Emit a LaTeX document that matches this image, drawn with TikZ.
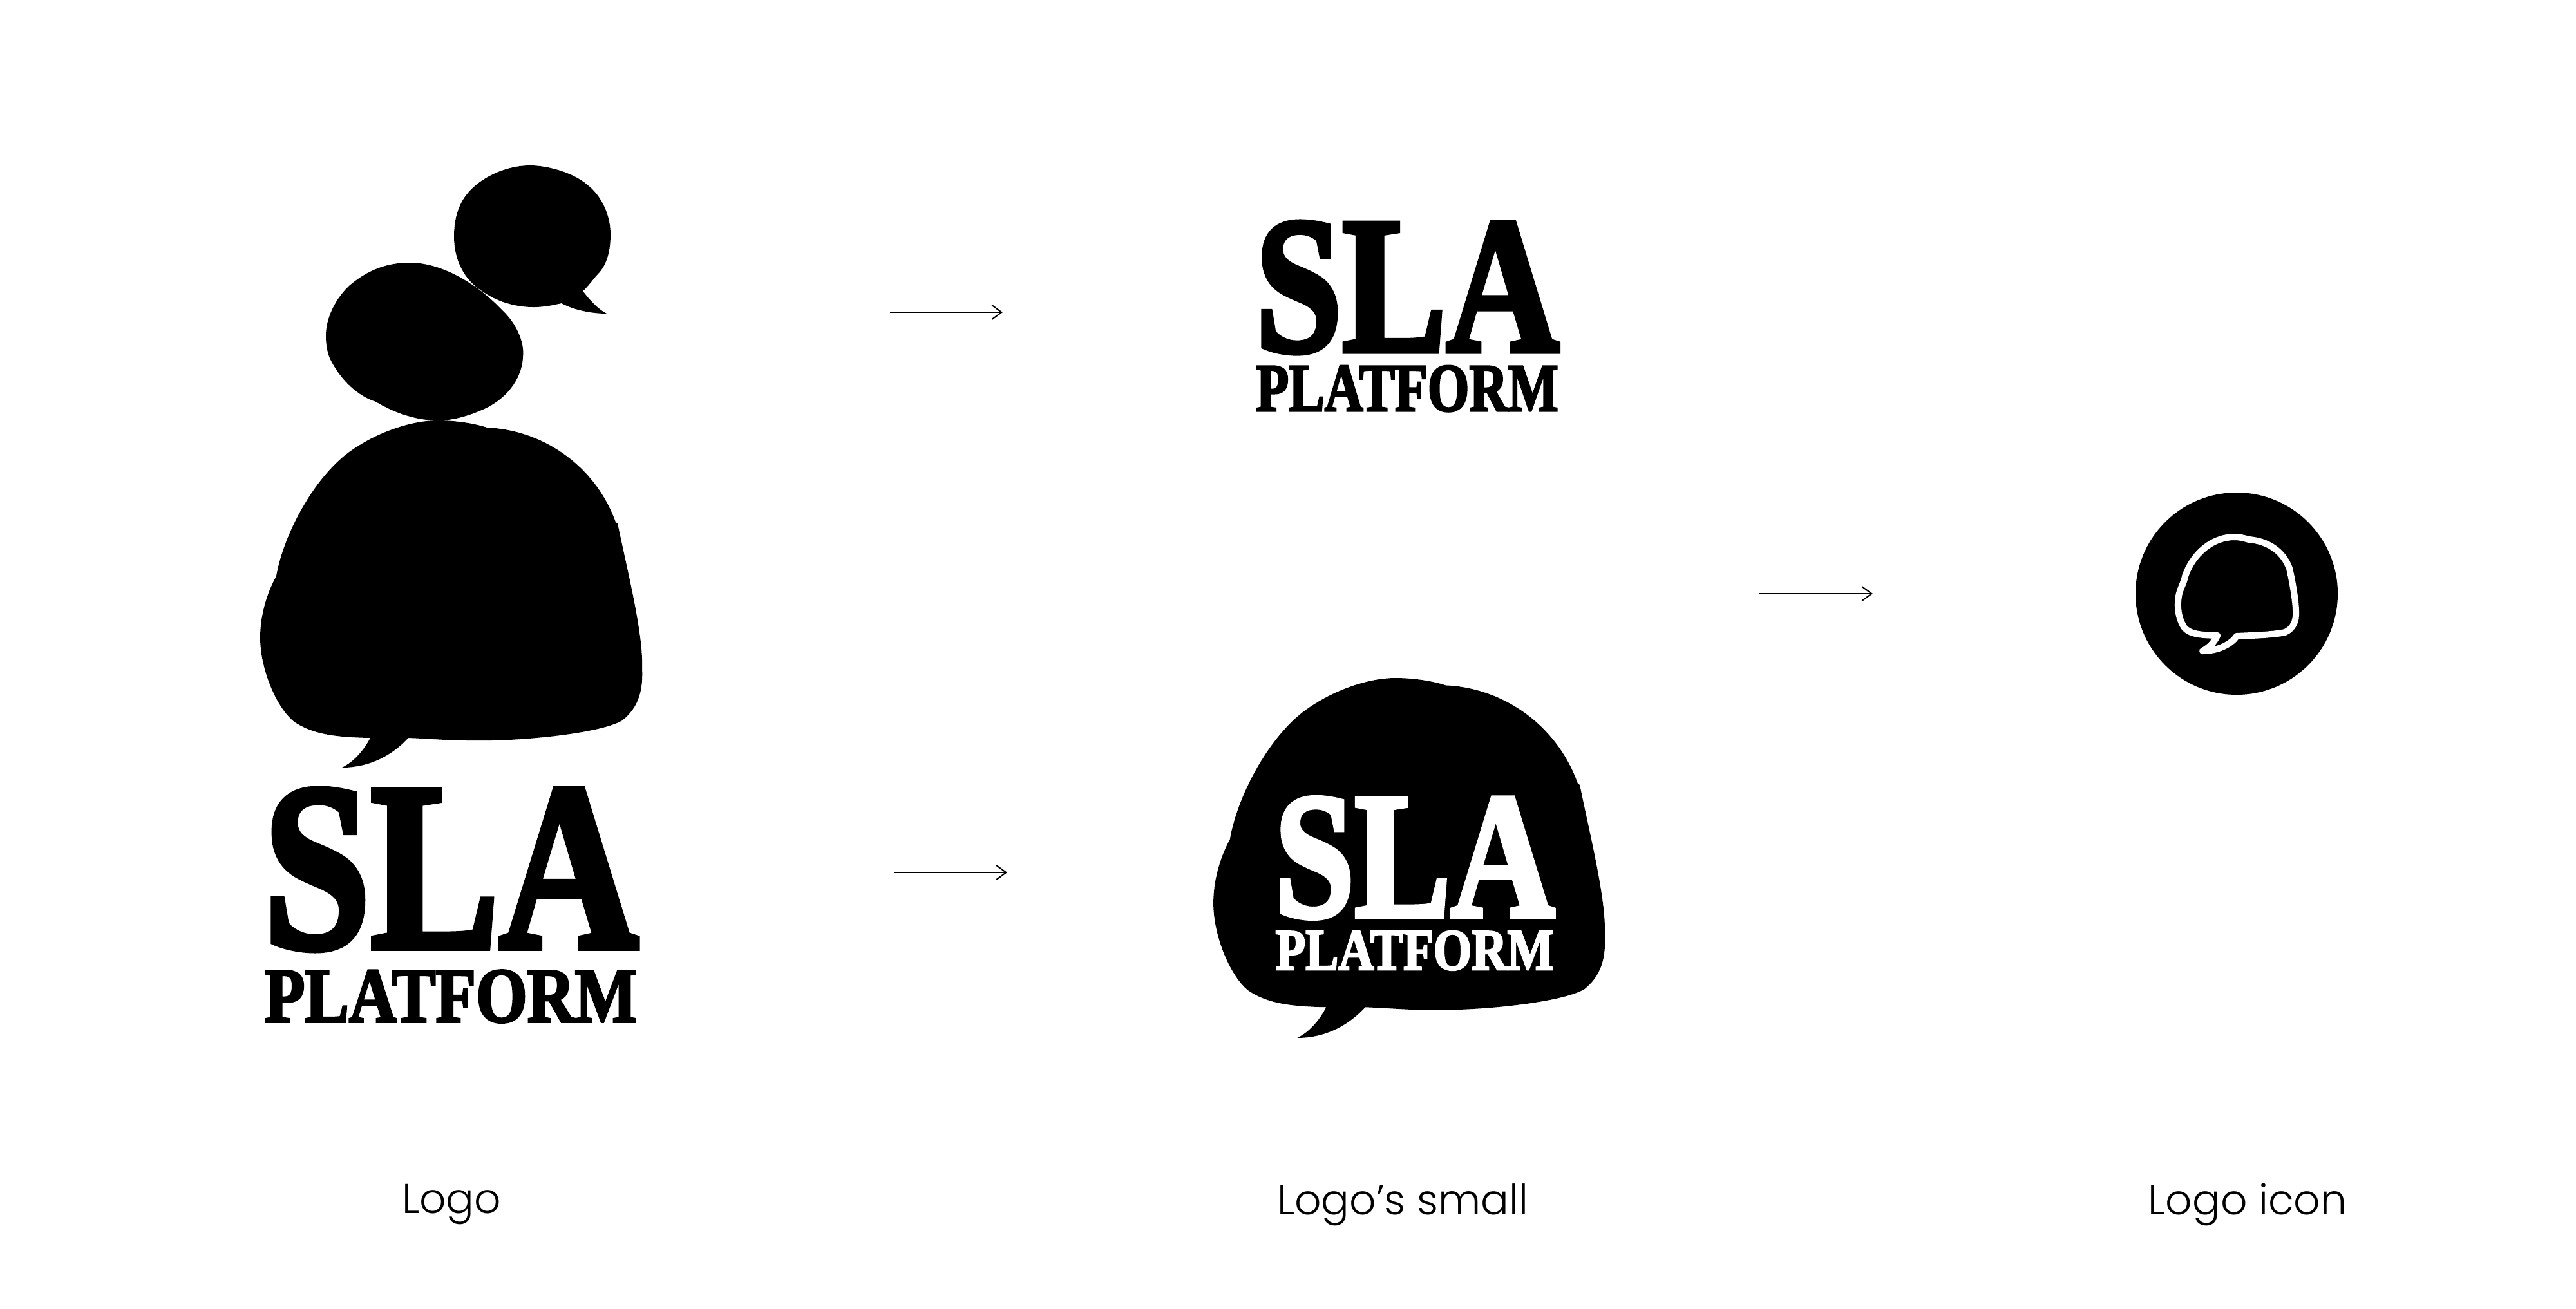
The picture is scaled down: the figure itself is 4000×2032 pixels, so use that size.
\documentclass[tikz,border=0pt]{standalone}
\usepackage{fontspec}
\usetikzlibrary{positioning}
\usetikzlibrary{arrows.meta}
\newfontfamily\logofont[FakeBold=3]{Liberation Serif Bold}
\newfontfamily\labelfont{Poppins Light}
\newcommand{\bubbleoutline}{
	(680,653) .. controls (705,653) and (735,657) .. (756,664)
	.. controls (845,668) and (925,725) .. (956,811)
	-- (959,813) .. controls (975,890) and (999,985) .. (997,1037)
	.. controls (999,1075) and (990,1100) .. (966,1119)
	.. controls (930,1140) and (800,1152) .. (729,1150)
	.. controls (695,1150) and (665,1147) .. (634,1146)
	.. controls (610,1172) and (575,1192) .. (531,1192)
	.. controls (550,1183) and (565,1165) .. (575,1146)
	.. controls (520,1145) and (485,1140) .. (457,1121)
	.. controls (430,1100) and (404,1040) .. (404,990)
	.. controls (404,955) and (415,920) .. (429,895)
	.. controls (440,830) and (490,735) .. (551,696)
	.. controls (590,670) and (640,653) .. (680,653)
	-- cycle}
\tikzset{
	logotype/.style={inner sep=0pt, outer sep=0pt, font=\logofont},
	caption/.style={inner sep=0pt, font=\labelfont\fontsize{18.4}{22}\selectfont},
	flow/.style={-{Straight Barb[length=.15cm,width=.22cm]}, line width=.02cm}
}
\begin{document}
\begin{tikzpicture}[x=0.01cm, y=-0.01cm]
	\useasboundingbox (0,0) rectangle (4000,2032);
	% large logo
	\fill \bubbleoutline;
	\fill (636,408) .. controls (690,408) and (745,445) .. (779,481)
		.. controls (800,500) and (815,530) .. (812,555)
		.. controls (810,590) and (785,620) .. (752,635)
		.. controls (730,645) and (705,653) .. (680,653)
		.. controls (645,653) and (610,640) .. (584,624)
		.. controls (555,615) and (530,590) .. (515,562)
		.. controls (508,550) and (506,535) .. (506,521)
		.. controls (506,495) and (520,465) .. (542,444)
		.. controls (570,420) and (600,408) .. (636,408) -- cycle;
	\fill (823,257) .. controls (850,257) and (890,268) .. (912,287)
		.. controls (935,305) and (948,335) .. (948,364)
		.. controls (948,395) and (940,415) .. (926,428)
		.. controls (918,438) and (910,448) .. (905,452)
		.. controls (915,465) and (928,480) .. (942,487)
		.. controls (920,487) and (892,482) .. (872,471)
		.. controls (858,474) and (845,477) .. (828,477)
		.. controls (800,477) and (770,468) .. (747,451)
		.. controls (722,435) and (705,405) .. (705,367)
		.. controls (705,340) and (712,315) .. (729,297)
		.. controls (752,272) and (790,257) .. (823,257) -- cycle;
	\node [logotype, anchor=north west] at (409,1226) (sla) {\resizebox{5.82cm}{2.45cm}{SLA}};
	\node [logotype, below=.32cm of sla] (platform) {\resizebox{5.78cm}{.80cm}{PLATFORM}};

	% small logo, plain
	\node [logotype, anchor=north west] at (1949,345) (slatwo) {\resizebox{4.72cm}{2.0cm}{SLA}};
	\node [logotype, below=.2cm of slatwo] (platformtwo) {\resizebox{4.69cm}{.70cm}{PLATFORM}};

	% small logo, in the bubble
	\begin{scope}[shift={(2167,1053)}, xscale=1.025, yscale=1.037, shift={(-680,-653)}]
		\fill \bubbleoutline;
	\end{scope}
	\node [logotype, text=white, anchor=north west] at (1979,1239) (slathree) {\resizebox{4.35cm}{1.84cm}{SLA}};
	\node [logotype, text=white, below=.2cm of slathree] (platformthree) {\resizebox{4.32cm}{.60cm}{PLATFORM}};

	% icon
	\fill (3473,922) circle [radius=157];
	\draw [white, line width=.1cm, line join=round] (3470,834) .. controls (3478,834) and (3485,836) .. (3492,838)
		.. controls (3520,840) and (3545,855) .. (3555,883)
		.. controls (3560,905) and (3565,935) .. (3565,950)
		.. controls (3566,965) and (3560,977) .. (3548,982)
		.. controls (3530,986) and (3495,987) .. (3473,988)
		.. controls (3465,1000) and (3445,1011) .. (3420,1011)
		.. controls (3430,1006) and (3438,998) .. (3443,987)
		.. controls (3420,986) and (3402,986) .. (3392,975)
		.. controls (3385,965) and (3381,950) .. (3382,935)
		.. controls (3383,915) and (3390,910) .. (3393,895)
		.. controls (3405,860) and (3435,834) .. (3470,834) -- cycle;

	% arrows
	\coordinate (upperstart) at (1382,485);
	\coordinate (upperend) at (1557,485);
	\coordinate (lowerstart) at (1388,1355);
	\coordinate (lowerend) at (1564,1355);
	\coordinate (iconstart) at (2732,922);
	\coordinate (iconend) at (2908,922);
	\draw [flow] (upperstart) -- (upperend);
	\draw [flow] (lowerstart) -- (lowerend);
	\draw [flow] (iconstart) -- (iconend);

	% captions
	\node [caption] at (701,1871) (logocaption) {Logo};
	\node [caption] at (2178,1871) (smallcaption) {Logo’s small};
	\node [caption] at (3490,1871) (iconcaption) {Logo icon};
\end{tikzpicture}
\end{document}
